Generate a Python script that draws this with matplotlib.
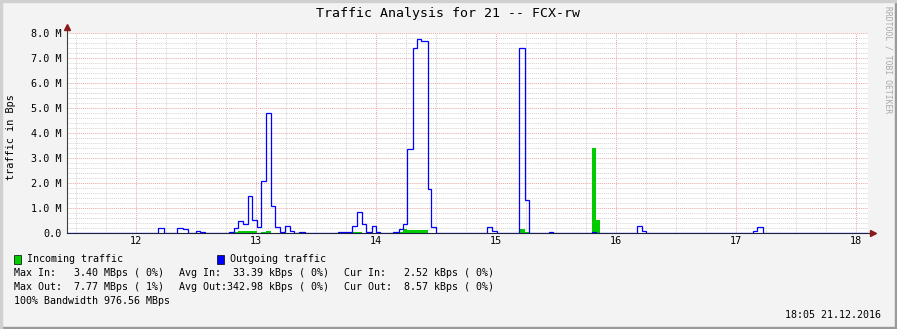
import matplotlib
matplotlib.use("Agg")
import matplotlib.pyplot as plt
from matplotlib.patches import Rectangle
from matplotlib.ticker import MultipleLocator, FuncFormatter

# outgoing traffic (MBps), step segments: start hour, end hour, value
out_start = [12.182, 12.348, 12.390, 12.502, 12.538, 12.779, 12.815, 12.852, 12.893, 12.932,
             12.968, 13.010, 13.046, 13.085, 13.129, 13.165, 13.204, 13.246, 13.282, 13.363,
             13.682, 13.802, 13.848, 13.882, 13.918, 13.968, 14.002, 14.148, 14.198, 14.232,
             14.265, 14.315, 14.348, 14.379, 14.435, 14.463, 14.932, 14.968, 15.198, 15.248,
             15.448, 15.802, 16.182, 16.218, 17.148, 17.182]
out_end = [12.232, 12.390, 12.432, 12.538, 12.579, 12.815, 12.852, 12.893, 12.932, 12.968,
           13.010, 13.046, 13.085, 13.129, 13.165, 13.204, 13.246, 13.282, 13.323, 13.407,
           13.802, 13.848, 13.882, 13.918, 13.968, 14.002, 14.038, 14.198, 14.232, 14.265,
           14.315, 14.348, 14.379, 14.435, 14.463, 14.502, 14.968, 15.015, 15.248, 15.282,
           15.482, 15.835, 16.218, 16.252, 17.182, 17.232]
out_val = [0.20, 0.20, 0.16, 0.08, 0.04, 0.04, 0.20, 0.50, 0.35, 1.50,
           0.52, 0.25, 2.08, 4.79, 1.10, 0.23, 0.03, 0.30, 0.10, 0.04,
           0.04, 0.29, 0.83, 0.36, 0.04, 0.30, 0.04, 0.04, 0.15, 0.38,
           3.35, 7.39, 7.77, 7.67, 1.75, 0.25, 0.23, 0.08, 7.39, 1.31,
           0.04, 0.04, 0.28, 0.08, 0.08, 0.23]

# incoming traffic (MBps)
in_start = [12.182, 12.348, 12.815, 12.852, 13.046, 13.085, 13.802, 14.198, 14.232, 14.265,
            15.198, 15.248, 15.802, 15.835, 16.182, 17.148]
in_end = [12.232, 12.432, 12.852, 13.010, 13.085, 13.129, 13.882, 14.232, 14.265, 14.435,
          15.248, 15.282, 15.835, 15.871, 16.252, 17.232]
in_val = [0.02, 0.02, 0.03, 0.08, 0.05, 0.09, 0.04, 0.06, 0.16, 0.13,
          0.17, 0.05, 3.40, 0.53, 0.02, 0.02]

x_lo, x_hi = 11.427, 18.104
hour_ticks = [12, 13, 14, 15, 16, 17, 18]

stats_in = ["Max In:   3.40 MBps ( 0%)", "Avg In:  33.39 kBps ( 0%)", "Cur In:   2.52 kBps ( 0%)"]
stats_out = ["Max Out:  7.77 MBps ( 1%)", "Avg Out:342.98 kBps ( 0%)", "Cur Out:  8.57 kBps ( 0%)"]


def steps(starts, ends, vals):
    edges = [x_lo]
    values = []
    for s, e, v in zip(starts, ends, vals):
        if s > edges[-1] + 1e-9:
            values.append(0.0)
            edges.append(s)
        values.append(v)
        edges.append(e)
    values.append(0.0)
    edges.append(x_hi)
    return edges, values


W, H = 897, 329
mono = "DejaVu Sans Mono"
plt.rcParams["font.family"] = mono

fig = plt.figure(figsize=(W / 100, H / 100), dpi=100, facecolor="#f3f3f3")


def px(x, y):
    return x / W, 1 - y / H


ax = fig.add_axes([67 / W, 96 / H, 801 / W, 200 / H])
ax.set_facecolor("white")
ax.set_xlim(x_lo, x_hi)
ax.set_ylim(0, 8.0)

ax.xaxis.set_major_locator(MultipleLocator(1))
ax.xaxis.set_minor_locator(MultipleLocator(0.25))
ax.yaxis.set_major_locator(MultipleLocator(1))
ax.yaxis.set_minor_locator(MultipleLocator(0.2))
ax.set_xticks(hour_ticks)
ax.set_xticklabels([str(h) for h in hour_ticks])
ax.yaxis.set_major_formatter(FuncFormatter(lambda v, p: "0.0" if v == 0 else f"{v:.1f} M"))

ax.grid(which="minor", color="#d4d4d4", linestyle=(0, (1, 1)), lw=0.7)
ax.grid(which="major", color="#e8a8a8", linestyle=(0, (1, 1)), lw=0.7)
ax.set_axisbelow(True)
ax.tick_params(which="both", length=0, labelsize=7.3, colors="black")
ax.tick_params(axis="y", pad=4)
ax.tick_params(axis="x", pad=2)

for s in ["top", "right"]:
    ax.spines[s].set_visible(False)
for s in ["left", "bottom"]:
    ax.spines[s].set_visible(False)

ie, iv = steps(in_start, in_end, in_val)
ax.stairs(iv, ie, fill=True, color="#00cc00", lw=0, zorder=2)
oe, ov = steps(out_start, out_end, out_val)
ax.stairs(ov, oe, color="#0000ff", lw=0.9, zorder=3)

# axes with arrows
ax.plot([0, 0], [0, 1.03], transform=ax.transAxes, color="#404040", lw=0.8, clip_on=False, zorder=4)
ax.plot([0, 1.005], [0, 0], transform=ax.transAxes, color="#202040", lw=0.8, clip_on=False, zorder=4)
ax.plot(0, 1.03, transform=ax.transAxes, marker="^", ms=4, color="#8b1a1a", clip_on=False, zorder=5)
ax.plot(1.006, 0, transform=ax.transAxes, marker=">", ms=4, color="#8b1a1a", clip_on=False, zorder=5)

fig.text(*px(448, 13), "Traffic Analysis for 21 -- FCX-rw", ha="center", va="center", fontsize=9.5)
fig.text(*px(11, 137), "traffic in Bps", rotation=90, ha="center", va="center", fontsize=7.4)
fig.text(*px(888, 60), "RRDTOOL / TOBI OETIKER", rotation=270, ha="center", va="center",
         fontsize=5.8, color="#a8a8a8")

# legend
fig.patches.append(Rectangle(px(13.5, 264), 7 / W, 9 / H, transform=fig.transFigure,
                             facecolor="#00cc00", edgecolor="black", lw=0.5))
fig.text(*px(26.7, 259), "Incoming traffic", ha="left", va="center", fontsize=7.2)
fig.patches.append(Rectangle(px(216.7, 264), 7 / W, 9 / H, transform=fig.transFigure,
                             facecolor="#0000ff", edgecolor="black", lw=0.5))
fig.text(*px(230, 259), "Outgoing traffic", ha="left", va="center", fontsize=7.2)

for x, t in zip([14, 179.3, 344], stats_in):
    fig.text(*px(x, 273.3), t, ha="left", va="center", fontsize=7.2)
for x, t in zip([14, 179.3, 344], stats_out):
    fig.text(*px(x, 287.3), t, ha="left", va="center", fontsize=7.2)
fig.text(*px(14, 301.3), "100% Bandwidth 976.56 MBps", ha="left", va="center", fontsize=7.2)
fig.text(*px(881, 315), "18:05 21.12.2016", ha="right", va="center", fontsize=7.2)

# frame shading
fig.patches.append(Rectangle((0, 0), 1, 2 / H, transform=fig.transFigure, color="#9a9a9a"))
fig.patches.append(Rectangle((1 - 2 / W, 0), 2 / W, 1, transform=fig.transFigure, color="#9a9a9a"))
fig.patches.append(Rectangle((0, 1 - 2 / H), 1, 2 / H, transform=fig.transFigure, color="#d0d0d0"))
fig.patches.append(Rectangle((0, 0), 2 / W, 1, transform=fig.transFigure, color="#d0d0d0"))

fig.savefig("out.png", dpi=100, facecolor=fig.get_facecolor())
